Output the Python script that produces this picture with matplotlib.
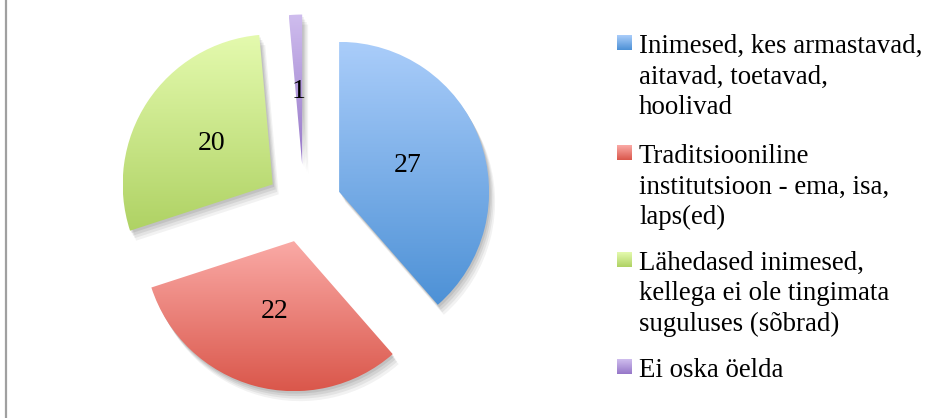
import numpy as np
import matplotlib
matplotlib.use("Agg")
import matplotlib.pyplot as plt
from matplotlib.patches import Wedge
from matplotlib.lines import Line2D
from matplotlib.colors import LinearSegmentedColormap

# ---- data ----
categories = [
    "Inimesed, kes armastavad,\naitavad, toetavad,\nhoolivad",
    "Traditsiooniline\ninstitutsioon - ema, isa,\nlaps(ed)",
    "Lähedased inimesed,\nkellega ei ole tingimata\nsuguluses (sõbrad)",
    "Ei oska öelda",
]
values = [27, 22, 20, 1]
total = sum(values)

# gradient colours (top, bottom)
grad_top = ["#AACDFA", "#FAAAA6", "#E4FAAE", "#CFBDEE"]
grad_bot = ["#4D91D6", "#DA574B", "#AFD264", "#9677C8"]

W, H = 938, 418
R = 150.0          # pie radius in px
CX, CY = 304, 205  # pie centre in px (from top-left)

fig = plt.figure(figsize=(W / 100, H / 100), dpi=100)
fig.patch.set_facecolor("white")
ax = fig.add_axes([0, 0, 1, 1])

def px(x, y):
    return (x - CX) / R, (CY - y) / R

wedges, texts, autotexts = ax.pie(
    values,
    explode=[0.25, 0.25, 0.25, 0.27],
    startangle=90,
    counterclock=False,
    radius=1,
    center=(0, 0),
    autopct=lambda p: f"{int(round(p * total / 100))}",
    pctdistance=0.49,
    frame=False,
    textprops=dict(fontsize=20, family="Liberation Serif", color="black"),
)

for i, w in enumerate(wedges):
    w.set_facecolor("none")
    w.set_edgecolor("none")
    # soft shadow
    for k, a in zip([4, 3, 2, 1], [0.05, 0.06, 0.07, 0.08]):
        sh = Wedge((w.center[0] + 1.5 * k / R, w.center[1] - 2.5 * k / R), w.r,
                   w.theta1, w.theta2, facecolor="black", edgecolor="none",
                   alpha=a, zorder=0.5)
        ax.add_patch(sh)
    ext = w.get_path().get_extents()
    cmap = LinearSegmentedColormap.from_list(f"g{i}", [grad_bot[i], grad_top[i]])
    grad = np.linspace(0, 1, 256).reshape(-1, 1)
    im = ax.imshow(grad, cmap=cmap, origin="lower", aspect="auto",
                   extent=(ext.x0, ext.x1, ext.y0, ext.y1), zorder=1,
                   interpolation="bilinear")
    im.set_clip_path(w)
for t in autotexts:
    t.set_zorder(3)

# ---- legend (manual) ----
first_baselines = [53, 163, 270, 377]
line_step = 30.5
text_x = 639
mk_x0, mk_size = 617, 15
for i, lab in enumerate(categories):
    bl = first_baselines[i]
    # gradient marker
    x0, y0 = px(mk_x0, bl - 3)
    x1, y1 = px(mk_x0 + mk_size, bl - 3 - mk_size)
    cmap = LinearSegmentedColormap.from_list(f"m{i}", [grad_bot[i], grad_top[i]])
    ax.imshow(np.linspace(0, 1, 64).reshape(-1, 1), cmap=cmap, origin="lower",
              aspect="auto", extent=(x0, x1, y0, y1), zorder=2)
    for j, line in enumerate(lab.split("\n")):
        tx, ty = px(text_x, bl + j * line_step)
        ax.text(tx, ty, line, fontsize=19.4, family="Liberation Serif",
                va="baseline", ha="left", color="black")

ax.set_xlim(-CX / R, (W - CX) / R)
ax.set_ylim(-(H - CY) / R, CY / R)
ax.set_aspect("auto")
ax.axis("off")

# left border line
fig.add_artist(Line2D([5.5 / W, 5.5 / W], [0, 1], color="#A0A0A0", lw=1.6,
                      transform=fig.transFigure))

fig.savefig("out.png", dpi=100, facecolor="white")
